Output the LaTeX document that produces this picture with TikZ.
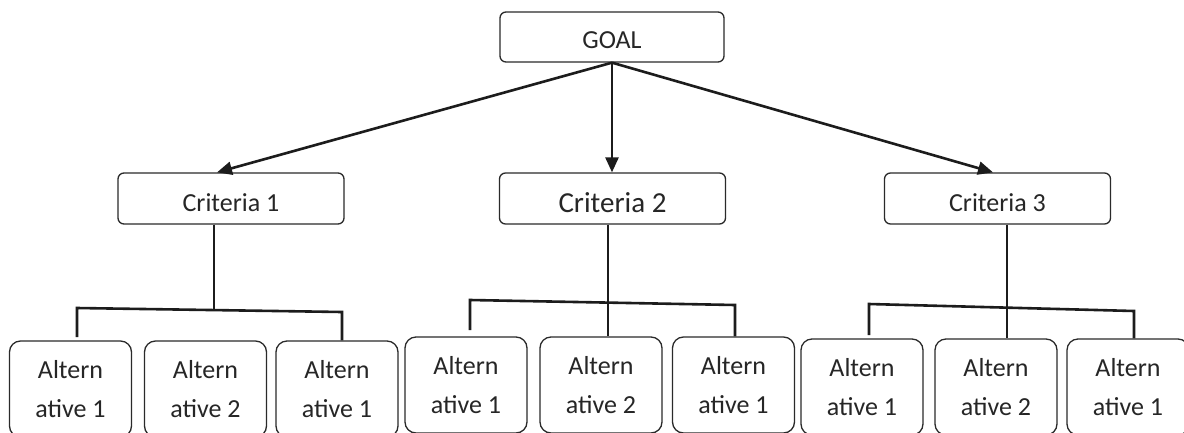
\documentclass[tikz,border=0pt]{standalone}
\usepackage{fontspec}
\setmainfont{Carlito}
\usetikzlibrary{arrows.meta}
\definecolor{ink}{HTML}{1C1C1C}
\definecolor{frame}{HTML}{2A2A2A}
\definecolor{txt}{HTML}{262626}
\begin{document}
\begin{tikzpicture}[x=1pt,y=1pt,
  box/.style={draw=frame, line width=1.3pt, rounded corners=6pt, text=txt,
    minimum width=226pt, minimum height=51pt, inner sep=0pt,
    text height=30pt, text depth=3.6pt, font=\fontsize{26}{31}\selectfont},
  altbox/.style={draw=frame, line width=1.3pt, rounded corners=11pt, text=txt,
    minimum width=122pt, minimum height=96pt, inner sep=0pt, align=center,
    font=\fontsize{26}{39.5}\selectfont},
  conn/.style={draw=ink, line width=2.6pt},
  arr/.style={conn, -{Triangle[length=15pt,width=13pt]}}]
\useasboundingbox (0,0) rectangle (1184,-432);
\fill[white] (0,0) rectangle (1184,-432);

% top level
\node[box, minimum width=224pt, minimum height=50pt, text height=26pt, text depth=3.4pt]
  (goal) at (612,-37) {GOAL};

% criteria
\node[box] (c1) at (231,-198.5) {Criteria 1};
\node[box, font=\fontsize{29}{34}\selectfont, text depth=2.4pt] (c2) at (612.5,-198.5) {Criteria 2};
\node[box] (c3) at (997.5,-198.5) {Criteria 3};

% alternatives (their lower edges run off the page)
\node[altbox] (a11) at (70.5,-389)  {Altern\\ative 1};
\node[altbox] (a12) at (205.5,-389) {Altern\\ative 2};
\node[altbox] (a13) at (337,-389)   {Altern\\ative 1};
\node[altbox] (a21) at (466,-385)   {Altern\\ative 1};
\node[altbox] (a22) at (601,-385)   {Altern\\ative 2};
\node[altbox] (a23) at (733.5,-385) {Altern\\ative 1};
\node[altbox] (a31) at (862,-387)   {Altern\\ative 1};
\node[altbox] (a32) at (996,-387)   {Altern\\ative 2};
\node[altbox] (a33) at (1128,-387)  {Altern\\ative 1};

% arrows from the goal
\coordinate (t1) at (217,0);
\coordinate (t3) at (993,0);
\draw[arr] (goal.south) -- (c1.north -| t1);
\draw[arr] (goal.south) -- (c2.north -| goal.south);
\draw[arr] (goal.south) -- (c3.north -| t3);

% branch under criteria 1
\coordinate (s1)  at (214,-310);
\coordinate (b1l) at (77,-308);
\coordinate (b1r) at (342,-312);
\coordinate (d1l) at (77,-337);
\draw[conn] (c1.south -| s1) -- (s1);
\draw[conn] (d1l) -- (b1l) -- (b1r) -- (a13.north -| b1r);

% branch under criteria 2
\coordinate (s2)  at (608,0);
\coordinate (b2l) at (470,-300);
\coordinate (b2r) at (735,-305);
\coordinate (d2l) at (470,-330);
\draw[conn] (c2.south -| s2) -- (a22.north -| s2);
\draw[conn] (d2l) -- (b2l) -- (b2r) -- (a23.north -| b2r);

% branch under criteria 3
\coordinate (s3)  at (1007,0);
\coordinate (b3l) at (869,-304);
\coordinate (b3r) at (1134,-311);
\coordinate (d3l) at (869,-335);
\draw[conn] (c3.south -| s3) -- (a32.north -| s3);
\draw[conn] (d3l) -- (b3l) -- (b3r) -- (a33.north -| b3r);
\end{tikzpicture}
\end{document}
